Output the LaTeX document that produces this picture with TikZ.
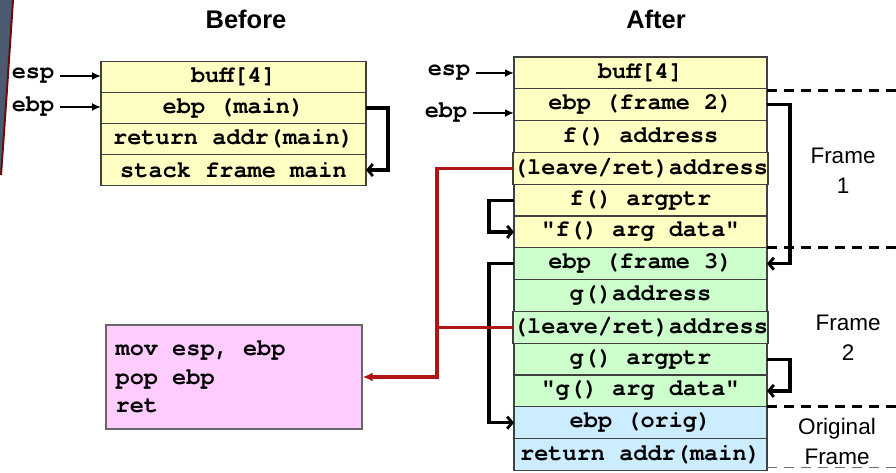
\documentclass[tikz,border=0pt]{standalone}
\usepackage{fontspec}
\setmainfont{Liberation Sans}
\setmonofont{texgyrecursor}[Extension=.otf, UprightFont=*-regular, BoldFont=*-bold, WordSpace={1,0,0}]
\usepackage{tikz}
\usetikzlibrary{positioning,arrows.meta}
\tikzset{>=latex}

\definecolor{cellyellow}{HTML}{FFFFC4}
\definecolor{cellgreen}{HTML}{CCFFCC}
\definecolor{cellblue}{HTML}{CCECFF}
\definecolor{codepink}{HTML}{FFCCFF}
\definecolor{retred}{HTML}{B01414}
\definecolor{slideblue}{HTML}{4A5A70}

\newcommand{\cellfont}{\fontsize{23.6}{28.5}\selectfont\ttfamily\bfseries}

\tikzset{
  cell/.style={draw=black!75, line width=1.2pt, inner sep=0pt, outer sep=0pt, minimum height=31.8pt, font=\cellfont},
  beforecell/.style={cell, fill=cellyellow, minimum width=265pt, minimum height=31pt},
  aftercell/.style={cell, minimum width=253pt},
  reglbl/.style={font=\cellfont, inner sep=2pt},
  ptr/.style={-{Latex[length=9pt,width=8pt]}, line width=2.8pt, shorten <=4pt},
  link/.style={-{Straight Barb[length=5pt,width=12pt,line width=2.8pt]}, line width=3.2pt},
  framelbl/.style={font=\fontsize{22.5}{30}\selectfont, align=center},
  frameline/.style={dash pattern=on 10pt off 7pt, line width=2.8pt},
}

\begin{document}
\begin{tikzpicture}[x=1pt, y=-1pt]
  \useasboundingbox (0,0) rectangle (896,473);

  % slide edge
  \fill[slideblue] (0,0) -- (13,0) .. controls (9,60) and (5,120) .. (1,175) -- (0,175) -- cycle;
  \draw[retred!60!black, line width=2pt] (13,0) .. controls (9,60) and (5,120) .. (1,175);

  \node[font=\fontsize{25.5}{28}\selectfont\bfseries] (before) at (246,19) {Before};
  \node[font=\fontsize{25.5}{28}\selectfont\bfseries] (after) at (656,19) {After};

  % before
  \node[beforecell] (b1) at (233.5,77) {buff[4]};
  \node[beforecell, below=0pt of b1] (b2) {ebp (main)};
  \node[beforecell, below=0pt of b2] (b3) {return addr(main)};
  \node[beforecell, below=0pt of b3] (b4) {stack frame main};

  \node[reglbl] (espB) at (33,76) {esp};
  \node[reglbl] (ebpB) at (33,107) {ebp};
  \draw[ptr] (espB) -- (espB -| b1.west);
  \draw[ptr] (ebpB) -- (ebpB -| b2.west);
  \draw[link] (b2.east) -- ++(22,0) |- (b4.east);

  % after
  \node[aftercell, fill=cellyellow] (a1) at (640.5,72.9) {buff[4]};
  \node[aftercell, fill=cellyellow, below=0pt of a1] (a2) {ebp (frame 2)};
  \node[aftercell, fill=cellyellow, below=0pt of a2] (a3) {f() address};
  \node[aftercell, fill=cellyellow, below=0pt of a3] (a4) {(leave/ret)address};
  \node[aftercell, fill=cellyellow, below=0pt of a4] (a5) {f() argptr};
  \node[aftercell, fill=cellyellow, below=0pt of a5] (a6) {"f() arg data"};
  \node[aftercell, fill=cellgreen, below=0pt of a6] (a7) {ebp (frame 3)};
  \node[aftercell, fill=cellgreen, below=0pt of a7] (a8) {g()address};
  \node[aftercell, fill=cellgreen, below=0pt of a8] (a9) {(leave/ret)address};
  \node[aftercell, fill=cellgreen, below=0pt of a9] (a10) {g() argptr};
  \node[aftercell, fill=cellgreen, below=0pt of a10] (a11) {"g() arg data"};
  \node[aftercell, fill=cellblue, below=0pt of a11] (a12) {ebp (orig)};
  \node[aftercell, fill=cellblue, below=0pt of a12] (a13) {return addr(main)};

  \node[reglbl] (espA) at (449,73) {esp};
  \node[reglbl] (ebpA) at (446,113) {ebp};
  \draw[ptr] (espA) -- (espA -| a1.west);
  \draw[ptr] (ebpA) -- (ebpA -| a2.west);

  \draw[link] (a2.east) -- ++(23,0) |- (a7.east);
  \draw[link] (a10.east) -- ++(23,0) |- (a11.east);
  \draw[link] (a5.west) -- ++(-25,0) |- (a6.west);
  \draw[link] (a7.west) -- ++(-25,0) |- (a12.west);

  % frames
  \coordinate (edge) at (896,0);
  \draw[frameline] ([yshift=-2pt]a1.south east) -- ([yshift=-2pt]a1.south east -| edge);
  \draw[frameline] (a6.south east) -- (a6.south east -| edge);
  \draw[frameline] (a11.south east) -- (a11.south east -| edge);
  \draw[frameline, black!55, line width=1.2pt] ([yshift=3pt]a13.south east) -- ([yshift=3pt]a13.south east -| edge);

  \node[framelbl] (frame1) at (843,171) {Frame\\1};
  \node[framelbl] (frame2) at (848,338) {Frame\\2};
  \node[framelbl] (frame0) at (837,441) {Original\\Frame};

  % epilogue code
  \node[draw=black!60, line width=1.2pt, fill=codepink, minimum width=256pt, minimum height=104pt] (code) at (234,377) {};
  \node[anchor=west, align=left, font=\cellfont, inner sep=0pt] (codetext) at ([xshift=10pt]code.west) {mov esp, ebp\\pop ebp\\ret};

  \draw[retred, line width=3.4pt, -{Latex[length=10pt,width=9pt]}] (a4.west) -- ++(-76,0) |- (code.east);
  \draw[retred, line width=3.4pt] (a9.west) -- ++(-76,0);
\end{tikzpicture}
\end{document}
